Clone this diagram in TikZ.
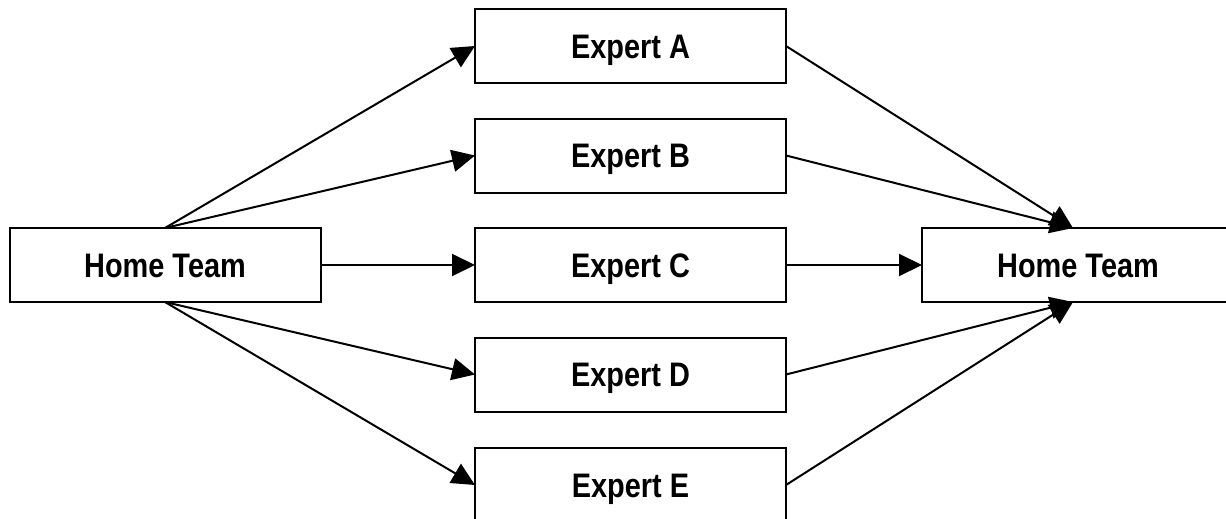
\documentclass[tikz,border=0pt]{standalone}
\usepackage{fontspec}
\setmainfont{Liberation Sans}[FakeStretch=0.85]
\usetikzlibrary{arrows.meta,calc}
\tikzset{
  boxnode/.style={draw=black, line width=2pt, minimum width=311pt, minimum height=74pt,
    inner sep=0pt, outer sep=0pt, text height=24.5pt, text depth=0pt,
    font=\fontsize{34}{40}\selectfont\bfseries, fill=white},
  conn/.style={line width=2pt, -{Triangle[length=23pt,width=22pt]}}
}
\begin{document}
\begin{tikzpicture}[x=1pt,y=-1pt]
\clip (0,0) rectangle (1226,519);
\node[boxnode] (HL) at (165,265) {Home Team};
\node[boxnode] (A) at (630.5,46) {Expert A};
\node[boxnode] (B) at (630.5,155.5) {Expert B};
\node[boxnode] (C) at (630.5,265) {Expert C};
\node[boxnode] (D) at (630.5,374.5) {Expert D};
\node[boxnode] (E) at (630.5,485) {Expert E};
\node[boxnode, minimum width=312pt] (HR) at (1078,265) {Home Team};
\coordinate (HRt) at ($(HR.north)+(-5,0)$);
\coordinate (HRb) at ($(HR.south)+(-5,0)$);
\draw[conn] (HL.north) -- (A.west);
\draw[conn] (HL.north) -- (B.west);
\draw[conn] (HL.east) -- (C.west);
\draw[conn] (HL.south) -- (D.west);
\draw[conn] (HL.south) -- (E.west);
\draw[conn] (A.east) -- (HRt);
\draw[conn] (B.east) -- (HRt);
\draw[conn] (C.east) -- (HR.west);
\draw[conn] (D.east) -- (HRb);
\draw[conn] (E.east) -- (HRb);
\end{tikzpicture}
\end{document}
